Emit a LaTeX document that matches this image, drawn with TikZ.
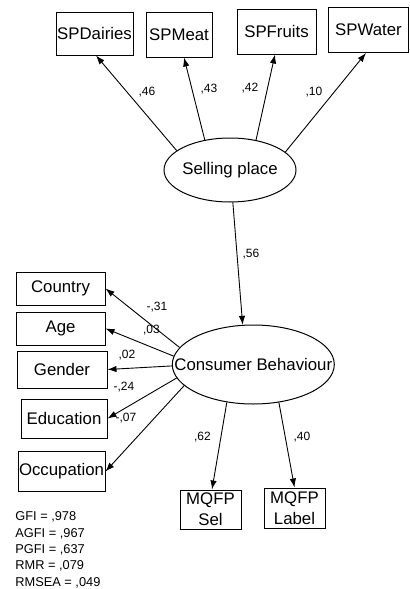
\documentclass[tikz,border=0pt]{standalone}
\usepackage{fontspec}
\setmainfont{Liberation Sans}
\usetikzlibrary{shapes.geometric,arrows.meta}
\begin{document}
\begin{tikzpicture}[x=0.5pt,y=-0.5pt,
  obs/.style={draw,line width=0.5pt,rectangle,inner sep=0pt,align=center,
    font=\fontsize{8.4}{10.5}\selectfont},
  lat/.style={draw,line width=0.5pt,ellipse,inner sep=0pt,
    font=\fontsize{8.4}{10.5}\selectfont},
  arr/.style={line width=0.45pt,-{Latex[length=4.5pt,width=3.2pt]}},
  coef/.style={inner sep=0pt,font=\fontsize{6}{7}\selectfont},
  fit/.style={inner sep=0pt,anchor=north west,align=left,
    font=\fontsize{6.4}{8.15}\selectfont}]
\useasboundingbox[fill=white] (0,0) rectangle (409,589);

% latent variables
\node[lat,minimum width=66pt,minimum height=32pt] (sp) at (230,170)
  {\makebox[0pt]{Selling place}};
\node[lat,minimum width=81pt,minimum height=39.5pt] (cb) at (253.3,364.5)
  {\makebox[0pt]{Consumer Behaviour}};

% indicators of the selling place
\node[obs,minimum width=38.5pt,minimum height=21.5pt] (dairies) at (94.5,33.5) {SPDairies};
\node[obs,minimum width=33pt,minimum height=22.5pt] (meat) at (179,34.5) {SPMeat};
\node[obs,minimum width=39.5pt,minimum height=22.5pt] (fruits) at (276.5,31.5) {SPFruits};
\node[obs,minimum width=40pt,minimum height=22.5pt] (water) at (368.5,30) {SPWater};

% consumer characteristics
\node[obs,minimum width=44.5pt,minimum height=16.5pt] (country) at (60.5,288.5) {Country};
\node[obs,minimum width=44.5pt,minimum height=16.5pt] (age) at (60.5,328.5) {Age};
\node[obs,minimum width=45pt,minimum height=18.5pt] (gender) at (62,369.5) {Gender};
\node[obs,minimum width=43pt,minimum height=19.5pt] (education) at (64,418.5) {Education};
\node[obs,minimum width=43.5pt,minimum height=20pt] (occupation) at (61.5,471.5) {Occupation};

% outcomes
\node[obs,minimum width=30.5pt,minimum height=19.5pt] (sel) at (210.5,509.5) {MQFP\\Sel};
\node[obs,minimum width=30.5pt,minimum height=20pt] (label) at (294.5,508) {MQFP\\Label};

% paths
\draw[arr] (sp.160) -- ([xshift=0.75pt]dairies.south);
\draw[arr] (sp.130) -- ([xshift=2.5pt]meat.south);
\draw[arr] (sp.49) -- ([xshift=-0.75pt]fruits.south);
\draw[arr] (sp.18) -- ([xshift=-1.25pt]water.south);
\draw[arr] (sp.275) -- (cb.105);

\draw[arr] (cb.167) -- (country.east);
\draw[arr] (cb.174) -- (age.east);
\draw[arr] (cb.181) -- (gender.east);
\draw[arr] (cb.190) -- (education.east);
\draw[arr] (cb.197) -- (occupation.east);

\draw[arr] (cb.235) -- ([xshift=0.75pt]sel.north);
\draw[arr] (cb.304) -- (label.north);

% standardized estimates
\node[coef] (c46) at (147,92) {,46};
\node[coef] (c43) at (209,89.5) {,43};
\node[coef] (c42) at (250,88.5) {,42};
\node[coef] (c10) at (314,92) {,10};
\node[coef] (c56) at (251,254) {,56};
\node[coef] (c31) at (157,307) {-,31};
\node[coef] (c03) at (151.5,330) {,03};
\node[coef] (c02) at (127,355) {,02};
\node[coef] (c24) at (124,387) {-,24};
\node[coef] (c07) at (126,418) {-,07};
\node[coef] (c62) at (202.5,437.5) {,62};
\node[coef] (c40) at (302,437.5) {,40};

% fit indices
\node[fit] (fitidx) at (15,511.5)
  {GFI = ,978\\AGFI = ,967\\PGFI = ,637\\RMR = ,079\\RMSEA = ,049};
\end{tikzpicture}
\end{document}
